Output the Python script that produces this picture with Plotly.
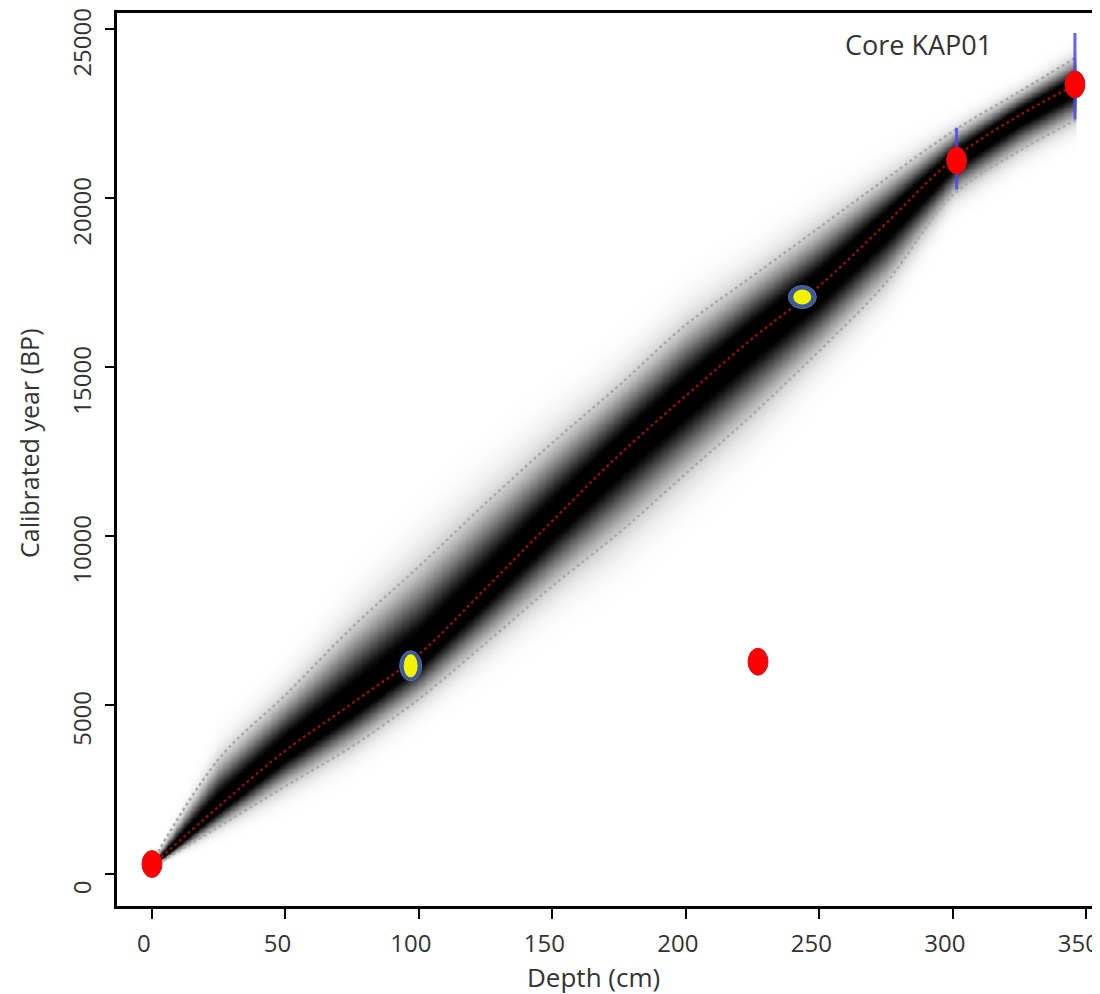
import numpy as np
import plotly.graph_objects as go

# ---------------- data ----------------
depth_knots = [0, 25, 50, 75, 100, 125, 150, 175, 200, 225, 250, 275, 300, 325, 346]
median_age = [250, 2000, 3650, 5050, 6500, 8450, 10450, 12400, 14150, 15850, 17400, 19250, 21150, 22450, 23350]
lower_age = [200, 1400, 2600, 3780, 5180, 6830, 8520, 10100, 11850, 13600, 15480, 17500, 20080, 21400, 22300]
upper_age = [350, 3400, 5300, 7300, 9100, 10970, 12760, 14460, 16250, 17690, 19130, 20570, 21970, 23150, 24150]

# dated levels
red_depth = [0, 227, 301.4, 345.7]
red_age = [295, 6280, 21110, 23360]
yellow_depth = [96.9, 243.6]
yellow_age = [6160, 17070]

# calibrated-age ranges drawn as blue bars
cal_depth = [301.4, 345.7]
cal_min = [20250, 22320]
cal_max = [22080, 24880]

x_ticks = [0, 50, 100, 150, 200, 250, 300, 350]
y_ticks = [0, 5000, 10000, 15000, 20000, 25000]

# ---------------- layout geometry ----------------
OFF = 8                      # default page (body) margin of the html page
W, H = 1100 - OFF, 994 - OFF
ML, MR, MT, MB = 117 - OFF, 0, 13 - OFF, 88
XR = [-13.1, 355.1]
YR = [-947, 25473]
pw, ph = W - ML - MR, H - MT - MB
px_per_x = pw / (XR[1] - XR[0])
px_per_y = ph / (YR[1] - YR[0])


def paper_x(page_x):
    return (page_x - OFF - ML) / pw


def paper_y(page_y):
    return (H - MB - (page_y - OFF)) / ph


# ---------------- density (age-depth model shading) ----------------
d_grid = np.arange(0, 347, 1.0)
a_grid = np.arange(-600, 25600, 50.0)
med = np.interp(d_grid, depth_knots, median_age)
lo = np.interp(d_grid, depth_knots, lower_age)
up = np.interp(d_grid, depth_knots, upper_age)
s_lo = np.maximum((med - lo) / 1.96, 40)
s_up = np.maximum((up - med) / 1.96, 40)
diff = a_grid[:, None] - med[None, :]
sig = np.where(diff < 0, s_lo[None, :], s_up[None, :])
z = np.round(np.exp(-0.5 * (diff / sig) ** 2), 3)

fig = go.Figure()
fig.add_trace(go.Heatmap(
    x=d_grid, y=a_grid, z=z, zmin=0, zmax=1, zsmooth="best", showscale=False,
    hoverinfo="skip",
    colorscale=[[0, "#ffffff"], [0.011, "#fafafa"], [0.044, "#eeeeee"], [0.135, "#d2d2d2"],
                [0.325, "#959595"], [0.607, "#454545"], [0.8, "#101010"], [0.88, "#000000"],
                [1, "#000000"]],
))

dot_grey = dict(color="rgb(170,170,170)", width=2.5, dash="dot")
fig.add_trace(go.Scatter(x=depth_knots, y=upper_age, mode="lines", line_shape="spline",
                         line=dot_grey, hoverinfo="skip"))
fig.add_trace(go.Scatter(x=depth_knots, y=lower_age, mode="lines", line_shape="spline",
                         line=dot_grey, hoverinfo="skip"))
fig.add_trace(go.Scatter(x=depth_knots, y=median_age, mode="lines", line_shape="spline",
                         line=dict(color="rgba(170,20,20,0.8)", width=2.5, dash="dot"),
                         hoverinfo="skip"))

# blue calibrated ranges
bx, by = [], []
for d, a0, a1 in zip(cal_depth, cal_min, cal_max):
    bx += [d, d, None]
    by += [a0, a1, None]
fig.add_trace(go.Scatter(x=bx, y=by, mode="lines",
                         line=dict(color="rgba(80,70,235,0.85)", width=3), hoverinfo="skip"))

shapes = []


def ellipse(xc, yc, wpx, hpx, fill, line_color, lw=1):
    hx = wpx / 2 / px_per_x
    hy = hpx / 2 / px_per_y
    return dict(type="circle", xref="x", yref="y", x0=xc - hx, x1=xc + hx,
                y0=yc - hy, y1=yc + hy, fillcolor=fill,
                line=dict(color=line_color, width=lw), layer="above")


for d, a in zip(red_depth, red_age):
    shapes.append(ellipse(d, a, 20, 27, "#ff0000", "#c81818", 1))

yellow_sizes = [((22, 30), (14, 23)), ((28, 23), (18, 15))]
for (d, a), (outer, inner) in zip(zip(yellow_depth, yellow_age), yellow_sizes):
    shapes.append(ellipse(d, a, outer[0], outer[1], "#3d5a96", "#55709f", 1))
    shapes.append(ellipse(d, a, inner[0], inner[1], "#f2f200", "#f2f200", 0))

font_family = "Open Sans, DejaVu Sans, sans-serif"
txt = "#333333"

fig.update_layout(
    width=W, height=H,
    margin=dict(l=ML, r=MR, t=MT, b=MB),
    paper_bgcolor="white", plot_bgcolor="white",
    showlegend=False,
    shapes=shapes,
    font=dict(family=font_family, color=txt),
    xaxis=dict(range=XR, tickvals=x_ticks, ticktext=[str(v) for v in x_ticks],
               automargin=False, ticklabeloverflow="allow",
               showgrid=False, zeroline=False, showline=True, linecolor="black",
               linewidth=3, mirror=True, ticks="outside", ticklen=10, tickwidth=2,
               tickcolor="black", tickfont=dict(size=24, color=txt),
               ticklabelstandoff=4, ticklabelshift=-8),
    yaxis=dict(range=YR, tickvals=y_ticks, ticktext=[str(v) for v in y_ticks],
               automargin=False, ticklabeloverflow="allow",
               showgrid=False, zeroline=False, showline=True, linecolor="black",
               linewidth=3, mirror=False, ticks="outside", ticklen=9, tickwidth=2,
               tickcolor="black", tickangle=-90, tickfont=dict(size=24, color=txt),
               ticklabelstandoff=4, ticklabelshift=17),
    annotations=[
        dict(text="Core KAP01", x=paper_x(918), y=paper_y(45), xref="paper", yref="paper",
             showarrow=False, font=dict(size=27, color=txt), xanchor="center", yanchor="middle"),
        dict(text="Depth (cm)", x=paper_x(593), y=paper_y(977), xref="paper", yref="paper",
             showarrow=False, font=dict(size=26, color=txt), xanchor="center", yanchor="middle"),
        dict(text="Calibrated year (BP)", x=paper_x(29), y=paper_y(443), xref="paper",
             yref="paper", showarrow=False, textangle=-90, font=dict(size=25, color=txt),
             xanchor="center", yanchor="middle"),
    ],
)

fig.write_html("out.html")
